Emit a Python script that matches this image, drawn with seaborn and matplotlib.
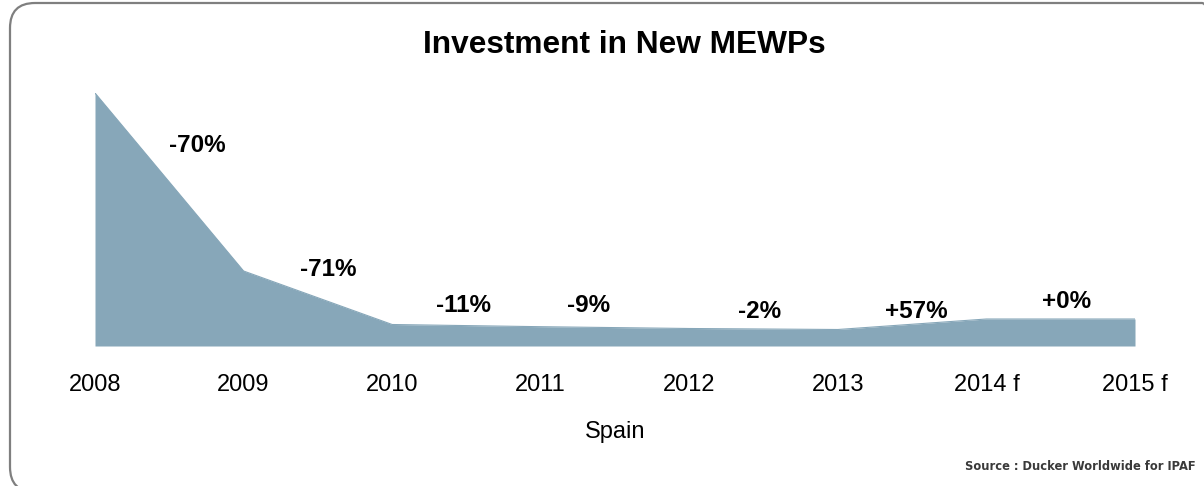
#!/usr/bin/env python
# coding: utf-8

import numpy as np
import pandas as pd
import matplotlib
matplotlib.use("Agg")
import matplotlib.pyplot as plt
from matplotlib.patches import FancyBboxPatch
import seaborn as sns

# Data (arbitrary units, baseline = 0)
years = ["2008", "2009", "2010", "2011", "2012", "2013", "2014 f", "2015 f"]
investment = [253, 75, 21.5, 19.3, 17.5, 16.5, 27, 27]
changes = ["-70%", "-71%", "-11%", "-9%", "-2%", "+57%", "+0%"]

# where each change label sits (x in category units, y in data units)
label_x = [0.69, 1.57, 2.48, 3.32, 4.47, 5.53, 6.54]
label_y = [201, 76, 41, 40, 34, 35, 45]

AREA_COLOR = "#87a7b9"

sns.set_theme(style="white")
plt.rcParams["font.family"] = ["Liberation Sans", "DejaVu Sans"]

df = pd.DataFrame({"pos": np.arange(len(years)), "value": investment})

fig = plt.figure(figsize=(12.04, 4.86), dpi=100)
W, H = 1204, 486
ax = fig.add_axes([95 / W, (H - 346) / H, 1040 / W, 253 / H])

sns.lineplot(data=df, x="pos", y="value", ax=ax, color=AREA_COLOR, linewidth=0.8)
ax.fill_between(df["pos"], df["value"], 0, color=AREA_COLOR, linewidth=0)

ax.set_xlim(0, len(years) - 1)
ax.set_ylim(0, max(investment))
ax.set_xticks(df["pos"])
ax.set_xticklabels(years, fontsize=17, color="black")
ax.tick_params(axis="x", length=0, pad=20)
ax.set_yticks([])
ax.set_xlabel("")
ax.set_ylabel("")
for s in ax.spines.values():
    s.set_visible(False)

for txt, lx, ly in zip(changes, label_x, label_y):
    ax.text(lx, ly, txt, ha="center", va="center", fontsize=17.5,
            fontweight="bold", color="black", clip_on=False)

fig.text(624 / W, 1 - 45 / H, "Investment in New MEWPs", ha="center",
         va="center", fontsize=22.8, fontweight="bold", color="black")
fig.text(615 / W, 1 - 432 / H, "Spain", ha="center", va="center",
         fontsize=17, color="black")
fig.text(1196 / W, 1 - 466 / H, "Source : Ducker Worldwide for IPAF",
         ha="right", va="center", fontsize=8.3, fontweight="bold",
         color="#3a3a3a", family=["DejaVu Sans"])

# rounded frame, partly running off the right and bottom edges
frame = FancyBboxPatch((0.10 + 0.25, -0.06 + 0.25), 12.17 - 0.5, 4.89 - 0.5,
                       boxstyle="round,pad=0.25", transform=fig.dpi_scale_trans,
                       facecolor="none", edgecolor="#7f7f7f", linewidth=1.6)
fig.patches.append(frame)

fig.savefig("out.png", dpi=100)
